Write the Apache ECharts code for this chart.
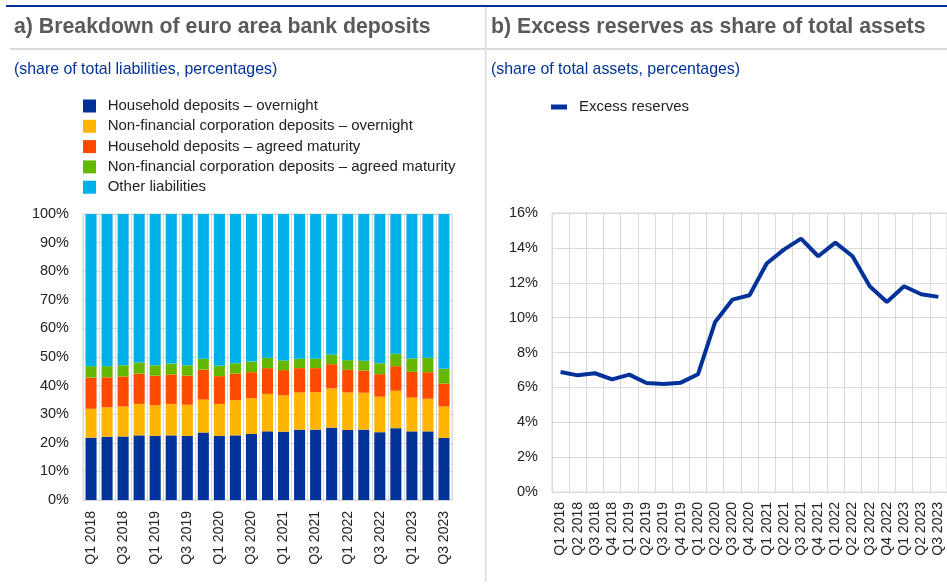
<!DOCTYPE html>
<html>
<head>
<meta charset="utf-8">
<script src="https://cdn.jsdelivr.net/npm/echarts@6/dist/echarts.min.js"></script>
<style>
  html, body { margin: 0; padding: 0; background: #fff; }
  #main { width: 947px; height: 586px; }
</style>
</head>
<body>
<div id="main"></div>
<script>
// quarters shared by both panels
var quarters = ["Q1 2018", "Q2 2018", "Q3 2018", "Q4 2018", "Q1 2019", "Q2 2019", "Q3 2019", "Q4 2019",
  "Q1 2020", "Q2 2020", "Q3 2020", "Q4 2020", "Q1 2021", "Q2 2021", "Q3 2021", "Q4 2021",
  "Q1 2022", "Q2 2022", "Q3 2022", "Q4 2022", "Q1 2023", "Q2 2023", "Q3 2023"];

// panel a) shares of total liabilities
var hhOvernight = [21.8, 22.1, 22.2, 22.6, 22.4, 22.6, 22.4, 23.6, 22.4, 22.6, 23.1, 24.0, 23.9, 24.6, 24.6, 25.3, 24.5, 24.6, 23.7, 25.1, 24.0, 24.0, 21.7];
var nfcOvernight = [10.1, 10.3, 10.5, 11.0, 10.7, 11.0, 10.9, 11.5, 11.2, 12.3, 12.5, 13.1, 12.7, 13.0, 13.1, 13.7, 13.1, 12.9, 12.4, 13.1, 11.8, 11.4, 11.0];
var hhAgreed = [10.9, 10.5, 10.5, 10.6, 10.4, 10.3, 10.2, 10.5, 9.7, 9.3, 9.1, 9.0, 8.8, 8.5, 8.4, 8.5, 7.9, 7.8, 7.9, 8.6, 9.0, 9.3, 8.0];
var nfcAgreed = [4.0, 3.9, 3.9, 3.9, 3.6, 3.8, 3.6, 3.8, 3.6, 3.6, 3.7, 3.6, 3.4, 3.3, 3.3, 3.4, 3.4, 3.4, 3.8, 4.3, 4.7, 5.0, 5.2];
var otherLiab = [53.2, 53.2, 52.9, 51.9, 52.9, 52.3, 52.9, 50.6, 53.1, 52.2, 51.6, 50.3, 51.2, 50.6, 50.6, 49.1, 51.1, 51.3, 52.2, 48.9, 50.5, 50.3, 54.1];

// panel b) excess reserves, share of total assets
var excessReserves = [6.88, 6.69, 6.81, 6.46, 6.73, 6.25, 6.19, 6.27, 6.75, 9.75, 11.03, 11.28, 13.1, 13.9, 14.53, 13.52, 14.3, 13.52, 11.8, 10.9, 11.8, 11.34, 11.19];

var seriesNames = ["Household deposits \u2013 overnight", "Non-financial corporation deposits \u2013 overnight",
  "Household deposits \u2013 agreed maturity", "Non-financial corporation deposits \u2013 agreed maturity", "Other liabilities"];
var seriesColors = ["#003299", "#FFB400", "#FF4B00", "#65B800", "#00B1EA"];

var myChart = echarts.init(document.getElementById("main"), null, { renderer: "canvas" });
var fontFam = "Liberation Sans, Arial, sans-serif";
var gridGray = "#d9d9d9";

var barData = [hhOvernight, nfcOvernight, hhAgreed, nfcAgreed, otherLiab];
var barSeries = barData.map(function (d, i) {
  return {
    name: seriesNames[i],
    type: "bar",
    stack: "total",
    xAxisIndex: 0,
    yAxisIndex: 0,
    barCategoryGap: "31%",
    itemStyle: { color: seriesColors[i] },
    data: d,
  };
});

var option = {
  animation: false,
  backgroundColor: "#fff",
  textStyle: { fontFamily: fontFam },
  graphic: [
    // header rules
    { type: "rect", shape: { x: 6, y: 5, width: 941, height: 2 }, style: { fill: "#003299" } },
    { type: "rect", shape: { x: 10, y: 48, width: 937, height: 2 }, style: { fill: gridGray } },
    { type: "rect", shape: { x: 485, y: 7, width: 1.5, height: 575 }, style: { fill: gridGray } },
    {
      type: "text", left: 14, top: 17,
      style: { text: "a) Breakdown of euro area bank deposits", font: "bold 21.3px " + fontFam, fill: "#5a5a5a" },
    },
    {
      type: "text", left: 491, top: 17,
      style: { text: "b) Excess reserves as share of total assets", font: "bold 21.3px " + fontFam, fill: "#5a5a5a" },
    },
    {
      type: "text", left: 14, top: 62,
      style: { text: "(share of total liabilities, percentages)", font: "15.9px " + fontFam, fill: "#003299" },
    },
    {
      type: "text", left: 491, top: 62,
      style: { text: "(share of total assets, percentages)", font: "15.9px " + fontFam, fill: "#003299" },
    },
  ],
  legend: [
    {
      data: seriesNames,
      orient: "vertical",
      left: 83,
      top: 98.5,
      padding: 0,
      itemWidth: 13,
      itemHeight: 13,
      itemGap: 5.3,
      icon: "rect",
      textStyle: { fontSize: 15, lineHeight: 15, color: "#222", padding: [0, 0, 0, 6.7] },
    },
    {
      data: [{ name: "Excess reserves", icon: "rect" }],
      left: 551,
      top: 99.5,
      padding: 0,
      itemWidth: 16,
      itemHeight: 5,
      textStyle: { fontSize: 15, lineHeight: 15, color: "#222", padding: [0, 0, 0, 7] },
    },
  ],
  grid: [
    { left: 83, top: 214, width: 369, height: 286, show: true, borderColor: gridGray, borderWidth: 1 },
    { left: 552, top: 213, width: 395, height: 279, show: true, borderColor: gridGray, borderWidth: 1 },
  ],
  xAxis: [
    {
      type: "category",
      gridIndex: 0,
      data: quarters,
      axisLine: { lineStyle: { color: gridGray } },
      axisTick: { show: false, interval: 0 },
      splitLine: { show: true, interval: 0, lineStyle: { color: gridGray } },
      axisLabel: { interval: 1, rotate: 90, margin: 11, fontSize: 14, color: "#222" },
    },
    {
      type: "category",
      gridIndex: 1,
      data: quarters,
      axisLine: { lineStyle: { color: gridGray } },
      axisTick: { show: false, interval: 0 },
      splitLine: { show: true, interval: 0, lineStyle: { color: gridGray } },
      axisLabel: { interval: 0, rotate: 90, margin: 10, fontSize: 14, color: "#222" },
    },
  ],
  yAxis: [
    {
      type: "value",
      gridIndex: 0,
      min: 0,
      max: 100,
      interval: 10,
      axisLine: { show: false },
      splitLine: { lineStyle: { color: gridGray } },
      axisLabel: { formatter: "{value}%", margin: 14, fontSize: 14.5, color: "#222" },
    },
    {
      type: "value",
      gridIndex: 1,
      min: 0,
      max: 16,
      interval: 2,
      axisLine: { show: false },
      splitLine: { lineStyle: { color: gridGray } },
      axisLabel: { formatter: "{value}%", margin: 14, fontSize: 14.5, color: "#222" },
    },
  ],
  series: barSeries.concat([
    {
      name: "Excess reserves",
      type: "line",
      xAxisIndex: 1,
      yAxisIndex: 1,
      showSymbol: false,
      symbol: "none",
      lineStyle: { width: 4, color: "#003299" },
      itemStyle: { color: "#003299" },
      data: excessReserves,
    },
  ]),
};

option && myChart.setOption(option);
</script>
</body>
</html>
